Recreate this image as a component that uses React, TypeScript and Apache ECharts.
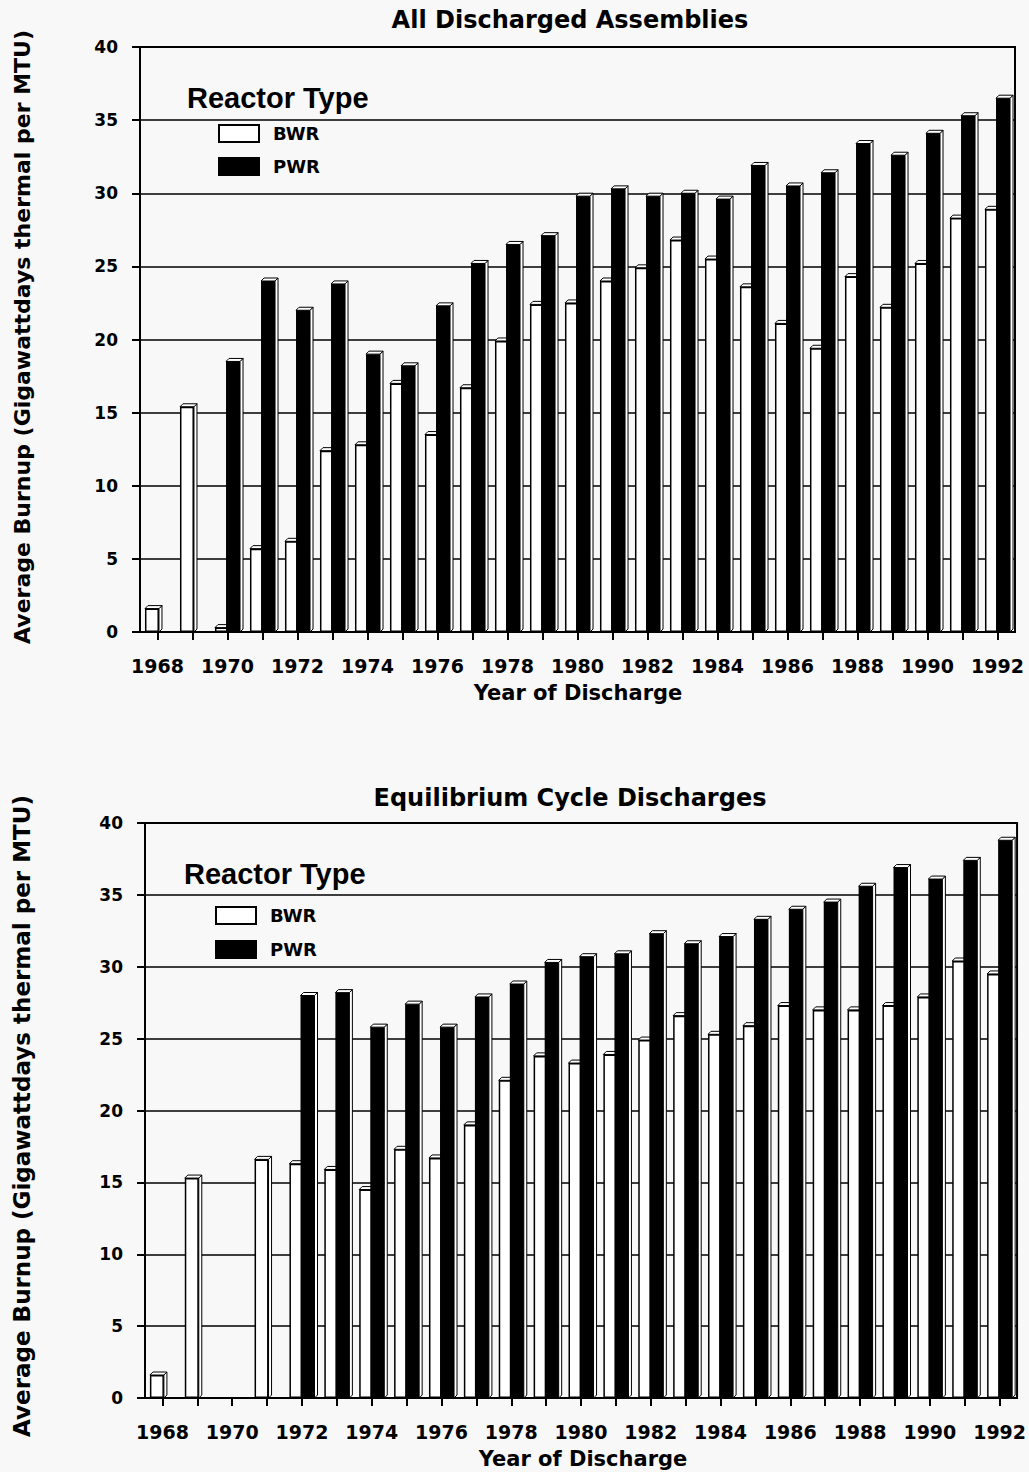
import React, { useEffect, useRef } from "react";
import * as echarts from "echarts";

// ---- data ----
const years = [
  "1968", "1969", "1970", "1971", "1972", "1973", "1974", "1975", "1976",
  "1977", "1978", "1979", "1980", "1981", "1982", "1983", "1984", "1985",
  "1986", "1987", "1988", "1989", "1990", "1991", "1992",
];

// All Discharged Assemblies
const allBWR = [
  1.6, 15.4, 0.3, 5.7, 6.2, 12.4, 12.8, 17.0, 13.5, 16.7, 19.9, 22.4, 22.5,
  24.0, 24.9, 26.8, 25.5, 23.6, 21.1, 19.4, 24.3, 22.2, 25.2, 28.3, 28.9,
];
const allPWR = [
  0, 0, 18.5, 24.0, 22.0, 23.8, 19.0, 18.2, 22.3, 25.2, 26.5, 27.1, 29.8,
  30.3, 29.8, 30.0, 29.6, 31.9, 30.5, 31.4, 33.4, 32.6, 34.1, 35.3, 36.5,
];

// Equilibrium Cycle Discharges
const eqBWR = [
  1.6, 15.3, 0, 16.6, 16.3, 15.9, 14.5, 17.3, 16.7, 19.0, 22.1, 23.8, 23.3,
  23.9, 24.9, 26.6, 25.3, 25.9, 27.3, 27.0, 27.0, 27.3, 27.9, 30.4, 29.5,
];
const eqPWR = [
  0, 0, 0, 0, 28.0, 28.2, 25.8, 27.4, 25.8, 27.9, 28.8, 30.3, 30.7, 30.9,
  32.3, 31.6, 32.1, 33.3, 34.0, 34.5, 35.6, 36.9, 36.1, 37.4, 38.8,
];

const seriesNames = ["BWR", "PWR"];
const panelTitles = ["All Discharged Assemblies", "Equilibrium Cycle Discharges"];
const xTitle = "Year of Discharge";
const yTitle = "Average Burnup (Gigawattdays thermal per MTU)";
const legendTitle = "Reactor Type";

const BOLD = { fontFamily: "DejaVu Sans", fontWeight: "bold" as const, color: "#000" };
const BAR_W = 14;
const BAR_GAP = -0.21;
const DEPTH = 3;

function axisPair(gridIndex: number) {
  const x = {
    type: "category",
    gridIndex,
    data: years,
    boundaryGap: true,
    axisLine: { show: true, lineStyle: { color: "#000", width: 2 } },
    axisTick: {
      show: true,
      alignWithLabel: true,
      interval: 0,
      length: 8,
      lineStyle: { color: "#000", width: 2 },
    },
    axisLabel: { ...BOLD, interval: 1, fontSize: 19, margin: 24 },
    splitLine: { show: false },
  };
  const y = {
    type: "value",
    gridIndex,
    min: 0,
    max: 40,
    interval: 5,
    axisLine: { show: true, lineStyle: { color: "#000", width: 2 } },
    axisTick: { show: true, length: 8, lineStyle: { color: "#000", width: 2 } },
    axisLabel: { ...BOLD, fontSize: 17, margin: 22 },
    splitLine: { show: true, lineStyle: { color: "#000", width: 1.5 } },
  };
  return { x, y };
}

// 3D top/side faces drawn on top of each bar, positioned via the axis scales
function depthSeries(gridIndex: number, values: number[], slot: number) {
  const centerShift = (slot === 0 ? -1 : 1) * (BAR_W * (1 + BAR_GAP)) / 2;
  return {
    type: "custom",
    name: seriesNames[slot] + " depth",
    xAxisIndex: gridIndex,
    yAxisIndex: gridIndex,
    silent: true,
    data: values.map((v, i) => [i, v]),
    encode: { x: 0, y: 1 },
    renderItem: (params: any, api: any) => {
      const v = api.value(1);
      const i = api.value(0);
      if (!v) return null;
      const top = api.coord([i, v]);
      const base = api.coord([i, 0]);
      const cx = top[0] + centerShift;
      const l = cx - BAR_W / 2;
      const r = cx + BAR_W / 2;
      const t = top[1];
      const b = base[1];
      const style = { fill: "#ffffff", stroke: "#000", lineWidth: 1 };
      return {
        type: "group",
        children: [
          {
            type: "polygon",
            shape: { points: [[r, t], [r + DEPTH, t - DEPTH], [r + DEPTH, b - DEPTH], [r, b]] },
            style,
          },
          {
            type: "polygon",
            shape: { points: [[l, t], [l + DEPTH, t - DEPTH], [r + DEPTH, t - DEPTH], [r, t]] },
            style,
          },
        ],
      };
    },
  };
}

function barSeries(gridIndex: number, bwr: number[], pwr: number[]) {
  return [
    {
      type: "bar",
      name: seriesNames[0],
      xAxisIndex: gridIndex,
      yAxisIndex: gridIndex,
      data: bwr,
      barWidth: BAR_W,
      barGap: BAR_GAP * 100 + "%",
      itemStyle: { color: "#ffffff", borderColor: "#000", borderWidth: 1.5 },
    },
    depthSeries(gridIndex, bwr, 0),
    {
      type: "bar",
      name: seriesNames[1],
      xAxisIndex: gridIndex,
      yAxisIndex: gridIndex,
      data: pwr,
      barWidth: BAR_W,
      barGap: BAR_GAP * 100 + "%",
      itemStyle: { color: "#000000", borderColor: "#000", borderWidth: 1.5 },
    },
    depthSeries(gridIndex, pwr, 1),
  ];
}

function legendAt(left: number, top: number, gap: number) {
  return {
    left,
    top,
    padding: 0,
    orient: "vertical",
    itemWidth: 40,
    itemHeight: 17,
    itemGap: gap,
    selectedMode: false,
    icon: "rect",
    data: seriesNames,
    textStyle: { ...BOLD, fontSize: 18, padding: [0, 0, 0, 9] },
  };
}

function txt(x: number, y: number, text: string, size: number, extra: any = {}) {
  return {
    type: "text",
    x,
    y,
    rotation: extra.rotation || 0,
    style: {
      text,
      fontFamily: extra.family || "DejaVu Sans",
      fontWeight: "bold",
      fontSize: size,
      fill: "#000",
      align: extra.align || "center",
      verticalAlign: "middle",
    },
  };
}

export default function App() {
  const ref = useRef<HTMLDivElement>(null);

  useEffect(() => {
    if (!ref.current) return;
    const chart = echarts.init(ref.current, undefined, { renderer: "svg" });
    const a0 = axisPair(0);
    const a1 = axisPair(1);
    chart.setOption({
      animation: false,
      backgroundColor: "#f8f8f8",
      grid: [
        { left: 140, top: 47, width: 875, height: 585, show: true, borderColor: "#000", borderWidth: 2, backgroundColor: "transparent" },
        { left: 145, top: 823, width: 875, height: 575, show: true, borderColor: "#000", borderWidth: 2, backgroundColor: "transparent" },
      ],
      xAxis: [a0.x, a1.x],
      yAxis: [a0.y, a1.y],
      legend: [legendAt(218, 124, 14), legendAt(215, 906, 15)],
      series: [...barSeries(0, allBWR, allPWR), ...barSeries(1, eqBWR, eqPWR)],
      graphic: [
        txt(570, 20, panelTitles[0], 24),
        txt(570, 798, panelTitles[1], 24),
        txt(187, 98, legendTitle, 29, { family: "Liberation Sans", align: "left" }),
        txt(184, 874, legendTitle, 29, { family: "Liberation Sans", align: "left" }),
        txt(578, 693, xTitle, 21),
        txt(583, 1459, xTitle, 21),
        txt(22, 337, yTitle, 22, { rotation: Math.PI / 2 }),
        txt(22, 1116, yTitle, 23, { rotation: Math.PI / 2 }),
      ],
    });
    return () => chart.dispose();
  }, []);

  return (
    <div
      ref={ref}
      style={{ position: "absolute", left: 0, top: 0, width: 1029, height: 1472 }}
    />
  );
}
